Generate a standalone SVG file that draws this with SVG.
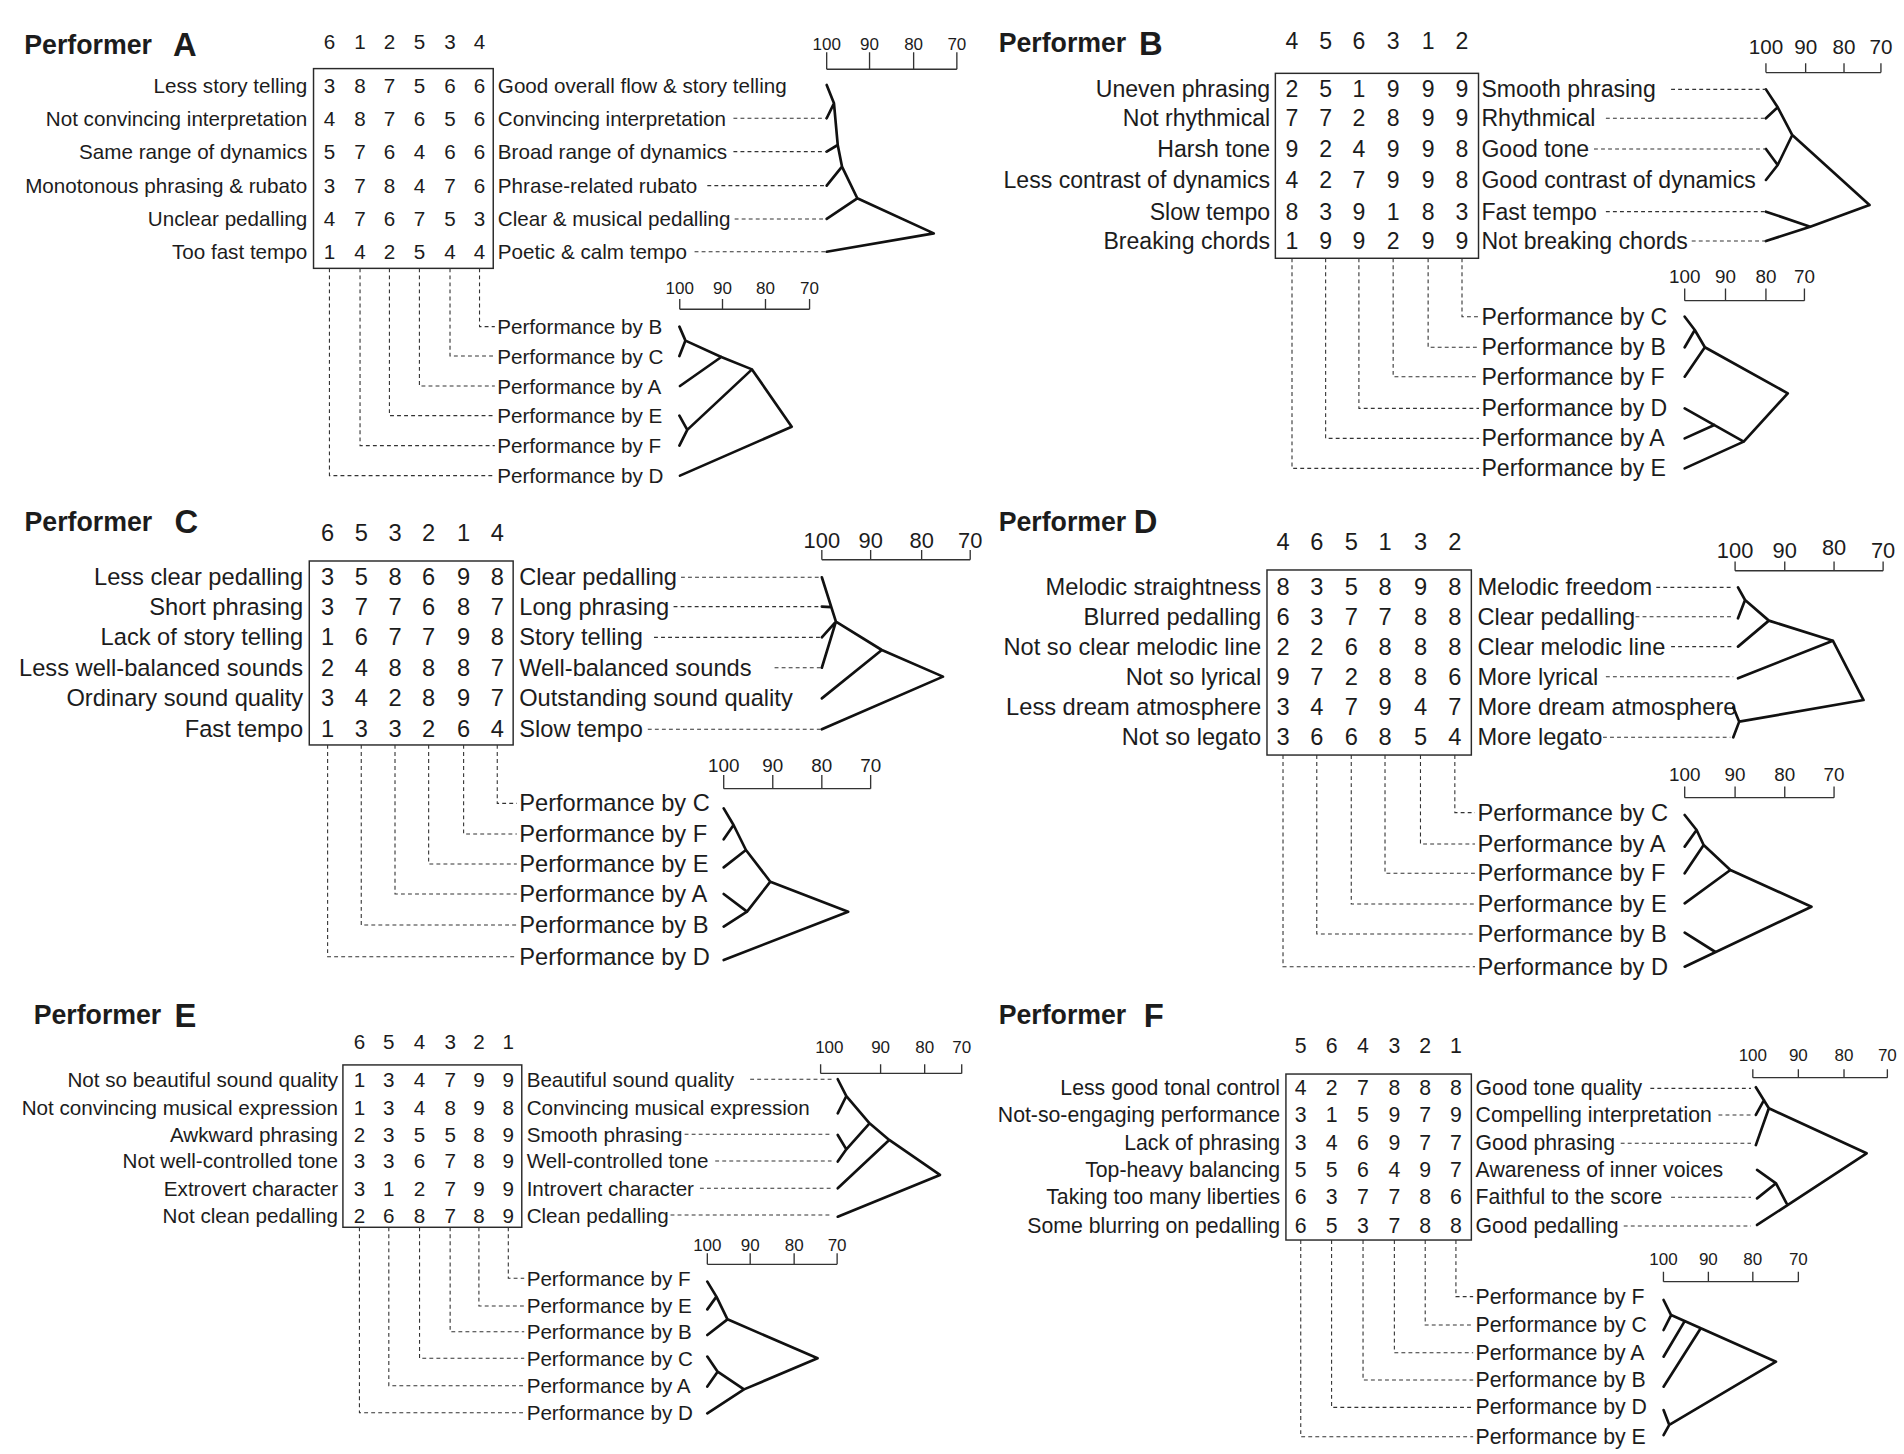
<svg xmlns="http://www.w3.org/2000/svg" width="1904" height="1454" viewBox="0 0 1904 1454">
<style>
text{font-family:"Liberation Sans",Arial,Helvetica,sans-serif;fill:#1c1c1c;dominant-baseline:central}
.e{text-anchor:end}.m{text-anchor:middle}
.ttl{font-weight:bold;font-size:22px}
.ttlL{font-weight:bold;font-size:27px}
.pA text,.pE text{font-size:17px}
.pB text{font-size:19px}
.pC text,.pD text{font-size:19.5px}
.pF text{font-size:17.5px}
.pA text.ttl,.pB text.ttl,.pC text.ttl,.pD text.ttl,.pE text.ttl,.pF text.ttl{font-size:22px}
.pA text.ttlL,.pB text.ttlL,.pC text.ttlL,.pD text.ttlL,.pE text.ttlL,.pF text.ttlL{font-size:27px}
text.s14{font-size:14px}text.s15{font-size:15.5px}text.s17{font-size:17px}text.s18{font-size:18px}
.box{fill:none;stroke:#2a2a2a;stroke-width:1.2}
.dash{fill:none;stroke:#333;stroke-width:0.9;stroke-dasharray:3.2 2.6}
.tree{fill:none;stroke:#111;stroke-width:2.2;stroke-linecap:round;stroke-linejoin:round}
.sc{fill:none;stroke:#333;stroke-width:1.1}
</style>
<rect width="1904" height="1454" fill="#ffffff"/>
<g transform="scale(1.214286)">

<!-- ================= Panel A ================= -->
<g id="panel-A" class="pA">
<g id="A-title"><text class="ttl" x="20" y="37">Performer</text><text class="ttlL" x="142.5" y="37">A</text></g>
<g id="A-grid">
<text class="m" x="271.3 296.5 320.7 345.4 370.6 394.9" y="34">612534</text>
<rect class="box" x="258.2" y="56.5" width="148" height="164.5"/>
<text class="m" x="271.3 296.5 320.7 345.4 370.6 394.9" y="70">387566</text>
<text class="m" x="271.3 296.5 320.7 345.4 370.6 394.9" y="97.4">487656</text>
<text class="m" x="271.3 296.5 320.7 345.4 370.6 394.9" y="124.9">576466</text>
<text class="m" x="271.3 296.5 320.7 345.4 370.6 394.9" y="152.9">378476</text>
<text class="m" x="271.3 296.5 320.7 345.4 370.6 394.9" y="180.3">476753</text>
<text class="m" x="271.3 296.5 320.7 345.4 370.6 394.9" y="207.3">142544</text>
</g>
<g id="A-left">
<text class="e" x="253" y="70">Less story telling</text>
<text class="e" x="253" y="97.4">Not convincing interpretation</text>
<text class="e" x="253" y="124.9">Same range of dynamics</text>
<text class="e" x="253" y="152.9">Monotonous phrasing &amp; rubato</text>
<text class="e" x="253" y="180.3">Unclear pedalling</text>
<text class="e" x="253" y="207.3">Too fast tempo</text>
</g>
<g id="A-right">
<text x="410" y="70">Good overall flow &amp; story telling</text>
<text x="410" y="97.4">Convincing interpretation</text>
<text x="410" y="124.9">Broad range of dynamics</text>
<text x="410" y="152.9">Phrase-related rubato</text>
<text x="410" y="180.3">Clear &amp; musical pedalling</text>
<text x="410" y="207.3">Poetic &amp; calm tempo</text>
</g>
<g id="A-scale1">
<path class="sc" d="M680.8,57 H788 M680.8,43 V57 M716.1,43 V57 M752.4,43 V57 M788,43 V57"/>
<text class="m s14" x="680.8" y="37">100</text><text class="m s14" x="716.1" y="37">90</text><text class="m s14" x="752.4" y="37">80</text><text class="m s14" x="788" y="37">70</text>
</g>
<g id="A-tree1"><path class="tree" d="M680.8,70 L686.8,85.1 L680.8,97.4 M686.8,85.1 L689.9,119.4 L680.8,124.9 M689.9,119.4 L693.4,137.2 L680.8,152.9 M693.4,137.2 L706,163.3 L680.8,180.3 M706,163.3 L769,192.2 L680.8,207.3"/></g>
<g id="A-perf">
<text x="409.5" y="269">Performance by B</text>
<text x="409.5" y="293.2">Performance by C</text>
<text x="409.5" y="317.9">Performance by A</text>
<text x="409.5" y="342.3">Performance by E</text>
<text x="409.5" y="367">Performance by F</text>
<text x="409.5" y="391.7">Performance by D</text>
</g>
<g id="A-scale2">
<path class="sc" d="M559.8,254.7 H666.7 M559.8,246.3 V254.7 M595,246.3 V254.7 M630.4,246.3 V254.7 M666.7,246.3 V254.7"/>
<text class="m s14" x="559.8" y="237.5">100</text><text class="m s14" x="595" y="237.5">90</text><text class="m s14" x="630.4" y="237.5">80</text><text class="m s14" x="666.7" y="237.5">70</text>
</g>
<g id="A-tree2"><path class="tree" d="M559.5,269 L564.5,280.5 L559.5,293.2 M564.5,280.5 L594,294 L619.3,304.2 M560,317.9 L594,294 M559.5,342.3 L566,354 L559.5,367 M566,354 L619.3,304.2 L652,351.4 L560,391.7"/></g>
</g>

<!-- ================= Panel B ================= -->
<g id="panel-B" class="pB">
<g id="B-title"><text class="ttl" x="822.4" y="35.7">Performer</text><text class="ttlL" x="938" y="35.7">B</text></g>
<g id="B-grid">
<text class="m" x="1064 1091.7 1119.1 1147.3 1176.1 1204" y="33.6">456312</text>
<rect class="box" x="1050.3" y="60.4" width="167.3" height="152.3"/>
<text class="m" x="1064 1091.7 1119.1 1147.3 1176.1 1204" y="73.6">251999</text>
<text class="m" x="1064 1091.7 1119.1 1147.3 1176.1 1204" y="97.4">772899</text>
<text class="m" x="1064 1091.7 1119.1 1147.3 1176.1 1204" y="122.7">924998</text>
<text class="m" x="1064 1091.7 1119.1 1147.3 1176.1 1204" y="148.2">427998</text>
<text class="m" x="1064 1091.7 1119.1 1147.3 1176.1 1204" y="174.3">839183</text>
<text class="m" x="1064 1091.7 1119.1 1147.3 1176.1 1204" y="198.5">199299</text>
</g>
<g id="B-left">
<text class="e" x="1046" y="73.6">Uneven phrasing</text>
<text class="e" x="1046" y="97.4">Not rhythmical</text>
<text class="e" x="1046" y="122.7">Harsh tone</text>
<text class="e" x="1046" y="148.2">Less contrast of dynamics</text>
<text class="e" x="1046" y="174.3">Slow tempo</text>
<text class="e" x="1046" y="198.5">Breaking chords</text>
</g>
<g id="B-right">
<text x="1220" y="73.6">Smooth phrasing</text>
<text x="1220" y="97.4">Rhythmical</text>
<text x="1220" y="122.7">Good tone</text>
<text x="1220" y="148.2">Good contrast of dynamics</text>
<text x="1220" y="174.3">Fast tempo</text>
<text x="1220" y="198.5">Not breaking chords</text>
</g>
<g id="B-scale1">
<path class="sc" d="M1454.3,59.8 H1549 M1454.3,52 V59.8 M1487,52 V59.8 M1518.6,52 V59.8 M1549,52 V59.8"/>
<text class="m s17" x="1454.3" y="38">100</text><text class="m s17" x="1487" y="38">90</text><text class="m s17" x="1518.6" y="38">80</text><text class="m s17" x="1549" y="38">70</text>
</g>
<g id="B-tree1"><path class="tree" d="M1454.3,73.6 L1464,88.4 L1454.3,97.4 M1464,88.4 L1476,111.2 L1539.6,168.8 M1454.3,122.7 L1464,135.9 L1454.3,148.2 M1464,135.9 L1476,111.2 M1454.3,174.3 L1490.8,186.7 L1454.3,198.5 M1490.8,186.7 L1539.6,168.8"/></g>
<g id="B-perf">
<text x="1220" y="260.8">Performance by C</text>
<text x="1220" y="286">Performance by B</text>
<text x="1220" y="310.2">Performance by F</text>
<text x="1220" y="336.3">Performance by D</text>
<text x="1220" y="361">Performance by A</text>
<text x="1220" y="385.7">Performance by E</text>
</g>
<g id="B-scale2">
<path class="sc" d="M1387.4,247.6 H1486 M1387.4,237.5 V247.6 M1421,237.5 V247.6 M1454.3,237.5 V247.6 M1486,237.5 V247.6"/>
<text class="m s15" x="1387.4" y="227.8">100</text><text class="m s15" x="1421" y="227.8">90</text><text class="m s15" x="1454.3" y="227.8">80</text><text class="m s15" x="1486" y="227.8">70</text>
</g>
<g id="B-tree2"><path class="tree" d="M1387.4,260.8 L1395.7,271.8 L1387.4,286 M1395.7,271.8 L1404,286 L1387.4,310.2 M1404,286 L1472.3,323.9 L1436,363.7 M1387.4,336.3 L1436,363.7 L1387.4,385.7 M1387.4,361 L1411.8,350"/></g>
</g>

<!-- ================= Panel C ================= -->
<g id="panel-C" class="pC">
<g id="C-title"><text class="ttl" x="20.2" y="429.6">Performer</text><text class="ttlL" x="143.7" y="429.6">C</text></g>
<g id="C-grid">
<text class="m" x="269.8 297.5 325.3 353 381.8 409.5" y="439.2">653214</text>
<rect class="box" x="254.7" y="462" width="167.9" height="151.5"/>
<text class="m" x="269.8 297.5 325.3 353 381.8 409.5" y="475.4">358698</text>
<text class="m" x="269.8 297.5 325.3 353 381.8 409.5" y="499.6">377687</text>
<text class="m" x="269.8 297.5 325.3 353 381.8 409.5" y="524.9">167798</text>
<text class="m" x="269.8 297.5 325.3 353 381.8 409.5" y="549.9">248887</text>
<text class="m" x="269.8 297.5 325.3 353 381.8 409.5" y="575.1">342897</text>
<text class="m" x="269.8 297.5 325.3 353 381.8 409.5" y="600.6">133264</text>
</g>
<g id="C-left">
<text class="e" x="249.6" y="475.4">Less clear pedalling</text>
<text class="e" x="249.6" y="499.6">Short phrasing</text>
<text class="e" x="249.6" y="524.9">Lack of story telling</text>
<text class="e" x="249.6" y="549.9">Less well-balanced sounds</text>
<text class="e" x="249.6" y="575.1">Ordinary sound quality</text>
<text class="e" x="249.6" y="600.6">Fast tempo</text>
</g>
<g id="C-right">
<text x="427.6" y="475.4">Clear pedalling</text>
<text x="427.6" y="499.6">Long phrasing</text>
<text x="427.6" y="524.9">Story telling</text>
<text x="427.6" y="549.9">Well-balanced sounds</text>
<text x="427.6" y="575.1">Outstanding sound quality</text>
<text x="427.6" y="600.6">Slow tempo</text>
</g>
<g id="C-scale1">
<path class="sc" d="M676.8,461 H799 M676.8,453 V461 M717,453 V461 M759,453 V461 M799,453 V461"/>
<text class="m s18" x="676.8" y="445">100</text><text class="m s18" x="717" y="445">90</text><text class="m s18" x="759" y="445">80</text><text class="m s18" x="799" y="445">70</text>
</g>
<g id="C-tree1"><path class="tree" d="M676.8,475.4 L688.4,512 M676.8,499.6 L684.6,500 M676.8,524.9 L688.4,512 M676.8,549.9 L688.4,512 L726.2,535.3 L776.6,557.2 L676.8,600.6 M676.8,575.1 L726.2,535.3"/></g>
<g id="C-perf">
<text x="427.6" y="661.6">Performance by C</text>
<text x="427.6" y="686.8">Performance by F</text>
<text x="427.6" y="711.5">Performance by E</text>
<text x="427.6" y="736.2">Performance by A</text>
<text x="427.6" y="761.8">Performance by B</text>
<text x="427.6" y="787.9">Performance by D</text>
</g>
<g id="C-scale2">
<path class="sc" d="M596,649.5 H717 M596,638.2 V649.5 M636.4,638.2 V649.5 M676.8,638.2 V649.5 M717,638.2 V649.5"/>
<text class="m s15" x="596" y="630">100</text><text class="m s15" x="636.4" y="630">90</text><text class="m s15" x="676.8" y="630">80</text><text class="m s15" x="717" y="630">70</text>
</g>
<g id="C-tree2"><path class="tree" d="M596,665.7 L604.1,679.4 L596,691.2 M604.1,679.4 L614.3,700 L596,714.3 M614.3,700 L634.4,726.1 L698.5,750.8 L596,790.6 M596,736.2 L615.2,750.8 L596,763.1 M615.2,750.8 L634.4,726.1"/></g>
</g>

<!-- ================= Panel D ================= -->
<g id="panel-D" class="pD">
<g id="D-title"><text class="ttl" x="822.4" y="429.6">Performer</text><text class="ttlL" x="933.7" y="429.6">D</text></g>
<g id="D-grid">
<text class="m" x="1056.6 1084.4 1112.8 1140.6 1169.8 1198.1" y="446">465132</text>
<rect class="box" x="1043.4" y="469.4" width="168.3" height="152.4"/>
<text class="m" x="1056.6 1084.4 1112.8 1140.6 1169.8 1198.1" y="483.7">835898</text>
<text class="m" x="1056.6 1084.4 1112.8 1140.6 1169.8 1198.1" y="507.9">637788</text>
<text class="m" x="1056.6 1084.4 1112.8 1140.6 1169.8 1198.1" y="532.5">226888</text>
<text class="m" x="1056.6 1084.4 1112.8 1140.6 1169.8 1198.1" y="557.3">972886</text>
<text class="m" x="1056.6 1084.4 1112.8 1140.6 1169.8 1198.1" y="582.5">347947</text>
<text class="m" x="1056.6 1084.4 1112.8 1140.6 1169.8 1198.1" y="607.2">366854</text>
</g>
<g id="D-left">
<text class="e" x="1038.6" y="483.7">Melodic straightness</text>
<text class="e" x="1038.6" y="507.9">Blurred pedalling</text>
<text class="e" x="1038.6" y="532.5">Not so clear melodic line</text>
<text class="e" x="1038.6" y="557.3">Not so lyrical</text>
<text class="e" x="1038.6" y="582.5">Less dream atmosphere</text>
<text class="e" x="1038.6" y="607.2">Not so legato</text>
</g>
<g id="D-right">
<text x="1216.7" y="483.7">Melodic freedom</text>
<text x="1216.7" y="507.9">Clear pedalling</text>
<text x="1216.7" y="532.5">Clear melodic line</text>
<text x="1216.7" y="557.3">More lyrical</text>
<text x="1216.7" y="582.5">More dream atmosphere</text>
<text x="1216.7" y="607.2">More legato</text>
</g>
<g id="D-scale1">
<path class="sc" d="M1428.9,470 H1550.8 M1428.9,462.5 V470 M1469.8,462.5 V470 M1510.4,462.5 V470 M1550.8,462.5 V470"/>
<text class="m s18" x="1428.9" y="453">100</text><text class="m s18" x="1469.8" y="453">90</text><text class="m s18" x="1510.4" y="450.5">80</text><text class="m s18" x="1550.8" y="453">70</text>
</g>
<g id="D-tree1"><path class="tree" d="M1431.3,483.7 L1437.1,494.1 L1431.3,509.2 M1437.1,494.1 L1456.7,511.1 L1431.3,532.5 M1456.7,511.1 L1509.4,527.6 L1431.3,558.6 M1509.4,527.6 L1534.7,576.5 L1432.3,594.3 M1427.4,582.5 L1432.3,594.3 L1427.4,607.2"/></g>
<g id="D-perf">
<text x="1216.7" y="669.2">Performance by C</text>
<text x="1216.7" y="695">Performance by A</text>
<text x="1216.7" y="719.2">Performance by F</text>
<text x="1216.7" y="744.5">Performance by E</text>
<text x="1216.7" y="769.2">Performance by B</text>
<text x="1216.7" y="796.1">Performance by D</text>
</g>
<g id="D-scale2">
<path class="sc" d="M1387.4,656.9 H1510.4 M1387.4,647.8 V656.9 M1428.9,647.8 V656.9 M1469.8,647.8 V656.9 M1510.4,647.8 V656.9"/>
<text class="m s15" x="1387.4" y="638.2">100</text><text class="m s15" x="1428.9" y="638.2">90</text><text class="m s15" x="1469.8" y="638.2">80</text><text class="m s15" x="1510.4" y="638.2">70</text>
</g>
<g id="D-tree2"><path class="tree" d="M1387.4,671.2 L1397.2,683.5 L1387.4,697.2 M1397.2,683.5 L1403,695.9 L1387.4,719.2 M1403,695.9 L1425,716.5 L1387.4,743.9 M1425,716.5 L1491.8,746.7 L1387.4,796.1 M1387.4,768.1 L1412.7,784"/></g>
</g>

<!-- ================= Panel E ================= -->
<g id="panel-E" class="pE">
<g id="E-title"><text class="ttl" x="27.7" y="835.9">Performer</text><text class="ttlL" x="143.7" y="835.9">E</text></g>
<g id="E-grid">
<text class="m" x="296 320.2 345.5 370.7 394.4 418.6" y="858">654321</text>
<rect class="box" x="282.4" y="877" width="147.3" height="133.7"/>
<text class="m" x="296 320.2 345.5 370.7 394.4 418.6" y="888.8">134799</text>
<text class="m" x="296 320.2 345.5 370.7 394.4 418.6" y="911.9">134898</text>
<text class="m" x="296 320.2 345.5 370.7 394.4 418.6" y="934.1">235589</text>
<text class="m" x="296 320.2 345.5 370.7 394.4 418.6" y="956.1">336789</text>
<text class="m" x="296 320.2 345.5 370.7 394.4 418.6" y="978.6">312799</text>
<text class="m" x="296 320.2 345.5 370.7 394.4 418.6" y="1000.6">268789</text>
</g>
<g id="E-left">
<text class="e" x="278.4" y="888.8">Not so beautiful sound quality</text>
<text class="e" x="278.4" y="911.9">Not convincing musical expression</text>
<text class="e" x="278.4" y="934.1">Awkward phrasing</text>
<text class="e" x="278.4" y="956.1">Not well-controlled tone</text>
<text class="e" x="278.4" y="978.6">Extrovert character</text>
<text class="e" x="278.4" y="1000.6">Not clean pedalling</text>
</g>
<g id="E-right">
<text x="433.7" y="888.8">Beautiful sound quality</text>
<text x="433.7" y="911.9">Convincing musical expression</text>
<text x="433.7" y="934.1">Smooth phrasing</text>
<text x="433.7" y="956.1">Well-controlled tone</text>
<text x="433.7" y="978.6">Introvert character</text>
<text x="433.7" y="1000.6">Clean pedalling</text>
</g>
<g id="E-scale1">
<path class="sc" d="M675.8,884 H792 M675.8,876.5 V884 M725.2,876.5 V884 M761.5,876.5 V884 M792,876.5 V884"/>
<text class="m s14" x="683" y="862.5">100</text><text class="m s14" x="725.2" y="862.5">90</text><text class="m s14" x="761.5" y="862.5">80</text><text class="m s14" x="792" y="862.5">70</text>
</g>
<g id="E-tree1"><path class="tree" d="M689.9,888.8 L697,902.6 L689.9,916.9 M697,902.6 L716.1,925.1 L732.3,938.8 L774.1,967.6 L689.9,1002 M689.9,934.7 L697,946.5 L689.9,956.6 M697,946.5 L716.1,925.1 M689.9,978.6 L732.3,938.8"/></g>
<g id="E-perf">
<text x="433.7" y="1052.7">Performance by F</text>
<text x="433.7" y="1075.5">Performance by E</text>
<text x="433.7" y="1096.7">Performance by B</text>
<text x="433.7" y="1118.6">Performance by C</text>
<text x="433.7" y="1141.2">Performance by A</text>
<text x="433.7" y="1163.4">Performance by D</text>
</g>
<g id="E-scale2">
<path class="sc" d="M582.5,1041.2 H689.4 M582.5,1032.1 V1041.2 M617.8,1032.1 V1041.2 M654,1032.1 V1041.2 M689.4,1032.1 V1041.2"/>
<text class="m s14" x="582.5" y="1026">100</text><text class="m s14" x="617.8" y="1026">90</text><text class="m s14" x="654" y="1026">80</text><text class="m s14" x="689.4" y="1026">70</text>
</g>
<g id="E-tree2"><path class="tree" d="M582.5,1055.5 L590,1067.8 L582.5,1078.3 M590,1067.8 L599.1,1086.5 L673.3,1118.6 L612.7,1144.2 L582.5,1163.9 M582.5,1099.4 L599.1,1086.5 M582.5,1117.2 L591,1129.6 L582.5,1141.9 M591,1129.6 L612.7,1144.2"/></g>
</g>

<!-- ================= Panel F ================= -->
<g id="panel-F" class="pF">
<g id="F-title"><text class="ttl" x="822.4" y="835.9">Performer</text><text class="ttlL" x="941.9" y="835.9">F</text></g>
<g id="F-grid">
<text class="m" x="1071.2 1096.6 1122.5 1148.3 1173.7 1199" y="861">564321</text>
<rect class="box" x="1059" y="884.5" width="152.7" height="136.7"/>
<text class="m" x="1071.2 1096.6 1122.5 1148.3 1173.7 1199" y="896.3">427888</text>
<text class="m" x="1071.2 1096.6 1122.5 1148.3 1173.7 1199" y="918.2">315979</text>
<text class="m" x="1071.2 1096.6 1122.5 1148.3 1173.7 1199" y="941.5">346977</text>
<text class="m" x="1071.2 1096.6 1122.5 1148.3 1173.7 1199" y="963.5">556497</text>
<text class="m" x="1071.2 1096.6 1122.5 1148.3 1173.7 1199" y="986">637786</text>
<text class="m" x="1071.2 1096.6 1122.5 1148.3 1173.7 1199" y="1009.7">653788</text>
</g>
<g id="F-left">
<text class="e" x="1054.2" y="896.3">Less good tonal control</text>
<text class="e" x="1054.2" y="918.2">Not-so-engaging performance</text>
<text class="e" x="1054.2" y="941.5">Lack of phrasing</text>
<text class="e" x="1054.2" y="963.5">Top-heavy balancing</text>
<text class="e" x="1054.2" y="986">Taking too many liberties</text>
<text class="e" x="1054.2" y="1009.7">Some blurring on pedalling</text>
</g>
<g id="F-right">
<text x="1215.2" y="896.3">Good tone quality</text>
<text x="1215.2" y="918.2">Compelling interpretation</text>
<text x="1215.2" y="941.5">Good phrasing</text>
<text x="1215.2" y="963.5">Awareness of inner voices</text>
<text x="1215.2" y="986">Faithful to the score</text>
<text x="1215.2" y="1009.7">Good pedalling</text>
</g>
<g id="F-scale1">
<path class="sc" d="M1443.5,887.5 H1554.3 M1443.5,880.5 V887.5 M1481,880.5 V887.5 M1518.6,880.5 V887.5 M1554.3,880.5 V887.5"/>
<text class="m s14" x="1443.5" y="869.5">100</text><text class="m s14" x="1481" y="869.5">90</text><text class="m s14" x="1518.6" y="869.5">80</text><text class="m s14" x="1554.3" y="869.5">70</text>
</g>
<g id="F-tree1"><path class="tree" d="M1446,895.4 L1456.7,912.7 L1537.2,949.8 L1447,1008.8 M1446,918.2 L1452.7,906 M1446,943 L1456.7,912.7 M1447,963.5 L1462.6,974.5 L1447,986.9 M1462.6,974.5 L1471.3,991"/></g>
<g id="F-perf">
<text x="1215.2" y="1067.8">Performance by F</text>
<text x="1215.2" y="1091.2">Performance by C</text>
<text x="1215.2" y="1114">Performance by A</text>
<text x="1215.2" y="1136.5">Performance by B</text>
<text x="1215.2" y="1159">Performance by D</text>
<text x="1215.2" y="1183.2">Performance by E</text>
</g>
<g id="F-scale2">
<path class="sc" d="M1369.9,1055.5 H1481 M1369.9,1047.3 V1055.5 M1406.9,1047.3 V1055.5 M1443.5,1047.3 V1055.5 M1481,1047.3 V1055.5"/>
<text class="m s14" x="1369.9" y="1037.6">100</text><text class="m s14" x="1406.9" y="1037.6">90</text><text class="m s14" x="1443.5" y="1037.6">80</text><text class="m s14" x="1481" y="1037.6">70</text>
</g>
<g id="F-tree2"><path class="tree" d="M1370,1070.6 L1376.2,1083 L1370,1095.3 M1376.2,1083 L1462.6,1121.4 L1374.7,1173.5 M1370,1117.3 L1387.4,1088 M1370,1142 L1400.6,1093.8 M1370,1161.2 L1374.7,1173.5 L1370,1181.8"/></g>
</g>

<!-- ================= Connectors ================= -->
<g id="connectors" class="dash">
<path d="M604,97.4 H680.8 M604,124.9 H680.8 M582.5,152.9 H680.8 M605,180.3 H680.8 M572,207.3 H680.8"/>
<path d="M394.9,221 V269 H407.5 M370.6,221 V293.2 H407.5 M345.4,221 V317.9 H407.5 M320.7,221 V342.3 H407.5 M296.5,221 V367 H407.5 M271.3,221 V391.7 H407.5"/>
<path d="M1376.2,73.6 H1454.3 M1322.5,97.4 H1454.3 M1312.7,122.7 H1454.3 M1322.5,174.3 H1454.3 M1393.2,198.5 H1454.3"/>
<path d="M1204,212.7 V260.8 H1218 M1176.1,212.7 V286 H1218 M1147.3,212.7 V310.2 H1218 M1119.1,212.7 V336.3 H1218 M1091.7,212.7 V361 H1218 M1064,212.7 V385.7 H1218"/>
<path d="M560.8,475.4 H676.8 M554.7,499.6 H676.8 M538.6,524.9 H676.8 M637.9,549.9 H676.8 M533.5,600.6 H676.8"/>
<path d="M409.5,613.5 V661.6 H425.6 M381.8,613.5 V686.8 H425.6 M353,613.5 V711.5 H425.6 M325.3,613.5 V736.2 H425.6 M297.5,613.5 V761.8 H425.6 M269.8,613.5 V787.9 H425.6"/>
<path d="M1364,483.7 H1427.4 M1346.9,507.9 H1427.4 M1376.2,532.5 H1427.4 M1322.5,557.3 H1427.4 M1320.1,607.2 H1425"/>
<path d="M1198.1,621.8 V669.2 H1214.7 M1169.8,621.8 V695 H1214.7 M1140.6,621.8 V719.2 H1214.7 M1112.8,621.8 V744.5 H1214.7 M1084.4,621.8 V769.2 H1214.7 M1056.6,621.8 V796.1 H1214.7"/>
<path d="M617.8,888.8 H684.8 M563.8,934.1 H684.8 M589,956.1 H684.8 M576.4,978.6 H684.8 M552.2,1000.6 H684.8"/>
<path d="M418.6,1010.7 V1052.7 H431.7 M394.4,1010.7 V1075.5 H431.7 M370.7,1010.7 V1096.7 H431.7 M345.5,1010.7 V1118.6 H431.7 M320.2,1010.7 V1141.2 H431.7 M296,1010.7 V1163.4 H431.7"/>
<path d="M1359.1,896.3 H1442 M1415.2,918.2 H1442 M1334.7,941.5 H1442 M1376.2,986 H1442 M1337.2,1009.7 H1442"/>
<path d="M1199,1021.2 V1067.8 H1213.2 M1173.7,1021.2 V1091.2 H1213.2 M1148.3,1021.2 V1114 H1213.2 M1122.5,1021.2 V1136.5 H1213.2 M1096.6,1021.2 V1159 H1213.2 M1071.2,1021.2 V1183.2 H1213.2"/>
</g>
</g>
</svg>
